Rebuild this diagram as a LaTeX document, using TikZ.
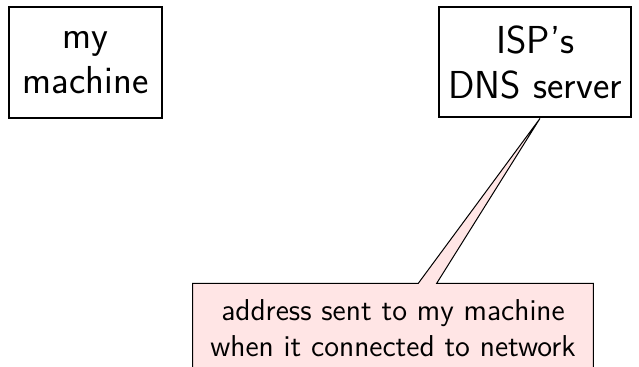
\documentclass[tikz,border=0pt]{standalone}
\usepackage{fontspec}
\renewcommand{\familydefault}{\sfdefault}
\begin{document}
\begin{tikzpicture}[x=0.5pt,y=-0.5pt,
  hostbox/.style={draw=black, line width=1pt, fill=white, inner sep=0pt,
    align=center, font=\sffamily\fontsize{19.5}{22.5}\selectfont},
  notebox/.style={draw=black, line width=0.5pt, fill=red!10},
  notetext/.style={inner sep=0pt, align=center, font=\sffamily\fontsize{15.1}{18}\selectfont}]
  \useasboundingbox (0,0) rectangle (639,366);
  \clip (0,0) rectangle (639,366);

  % the two hosts
  \node[hostbox, minimum width=76.3pt, minimum height=55.5pt] (mine) at (85.7,62.5) {my\\machine};
  \node[hostbox, minimum width=95.8pt, minimum height=55.2pt] (dns) at (535.2,62.2) {ISP's\\DNS server};

  % callout pointing at the DNS server
  \coordinate (tip) at (dns.south -| 540,0);
  \coordinate (bl) at (192.7,283.3);
  \coordinate (br) at (593.3,283.3);
  \coordinate (pl) at (418.3,283.3);
  \coordinate (pr) at (436.7,283.3);
  \draw[notebox] (bl) -- (pl) -- (tip) -- (pr) -- (br) -- (593.3,390) -- (192.7,390) -- cycle;
  \node[notetext] (note) at (393,328) {address sent to my machine\\when it connected to network};
\end{tikzpicture}
\end{document}
